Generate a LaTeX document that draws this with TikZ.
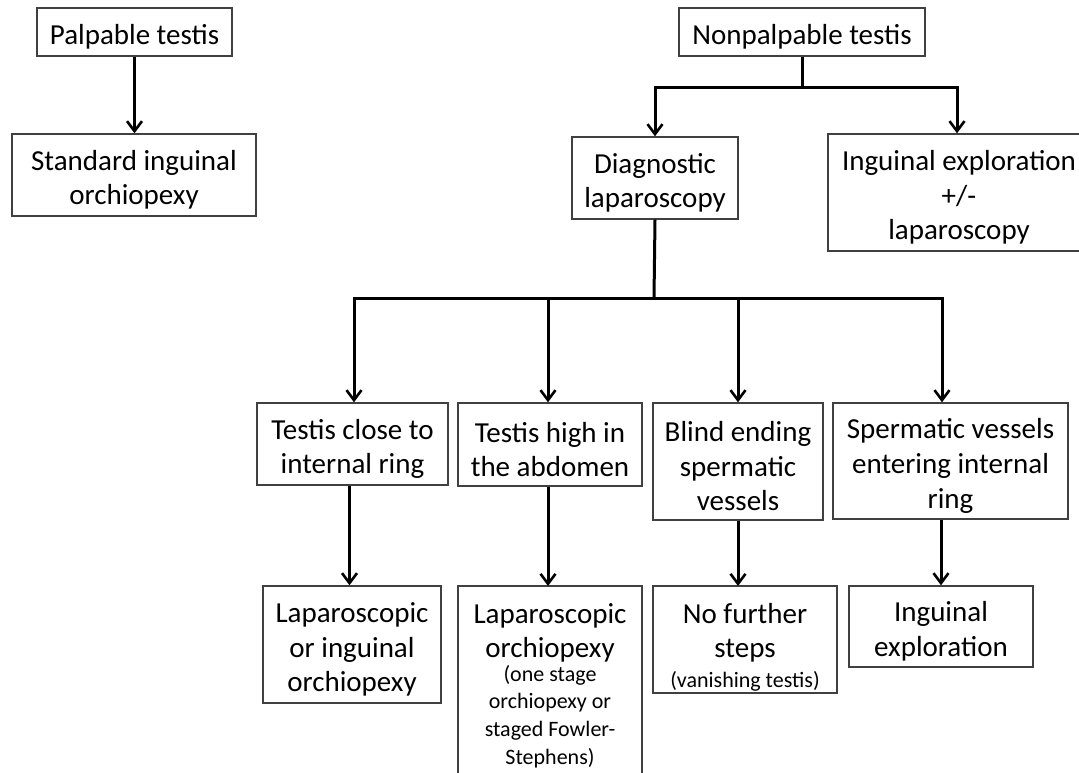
\documentclass[tikz,border=0pt]{standalone}
\usepackage{fontspec}
\setmainfont{Carlito}
\usetikzlibrary{arrows.meta}
\newcommand\mainsz{\fontsize{29pt}{34.6pt}\selectfont}
\newcommand\smallsz{\fontsize{22pt}{27pt}\selectfont}
\newcommand\tp{\rule{0pt}{30pt}}
\begin{document}
\begin{tikzpicture}[x=1pt,y=-1pt,
  box/.style={draw=black!75, line width=1.4pt, align=center, inner sep=0pt, font=\mainsz},
  boxline/.style={draw=black!75, line width=1.4pt},
  txt/.style={align=center, inner xsep=0pt, font=\mainsz},
  conn/.style={line width=3pt, black},
  arr/.style={conn, -{Straight Barb[length=10pt,width=15pt,line width=2.6pt]}}]
\useasboundingbox (0,0) rectangle (1079,773);
\fill[white] (0,0) rectangle (1079,773);

\node[box, minimum width=195pt, minimum height=48pt] (A) at (134.5,32) {\tp Palpable testis};
\node[box, minimum width=244pt, minimum height=82pt] (B) at (134,175) {\tp Standard inguinal\\orchiopexy};
\node[box, minimum width=246pt, minimum height=48pt] (C) at (802,32) {\tp Nonpalpable testis};
\node[box, minimum width=166pt, minimum height=82pt] (D) at (655,178) {\tp Diagnostic\\laparoscopy};
\node[box, minimum width=262pt, minimum height=117pt] (E) at (959,192.5) {\tp Inguinal exploration\\+/-\\laparoscopy};

\node[box, minimum width=191pt, minimum height=82pt] (F) at (352.5,444) {\tp Testis close to\\internal ring};
\node[box, minimum width=184pt, minimum height=83pt] (G) at (550,444.5) {\tp Testis high in\\the abdomen};
\node[box, minimum width=170pt, minimum height=117pt] (H) at (738,461.5) {\tp Blind ending\\spermatic\\vessels};
\node[box, minimum width=235pt, minimum height=116pt] (I) at (950.5,461) {\tp Spermatic vessels\\entering internal\\ring};

\node[box, minimum width=178pt, minimum height=117pt] (J) at (352,644.5) {\tp Laparoscopic\\or inguinal\\orchiopexy};
\node[txt, anchor=north, minimum width=184pt, inner ysep=17pt] (K) at (550,586)
  {Laparoscopic\\orchiopexy\\[-11pt]{\smallsz (one stage}\\[-7pt]{\smallsz orchiopexy or}\\[-7pt]{\smallsz staged Fowler-}\\[-7pt]{\smallsz Stephens)}};
\draw[boxline] (K.north west) rectangle ++(184,220);
\node[txt, anchor=north, minimum width=184pt, inner ysep=17pt] (L) at (745,586)
  {No further\\steps\\[-5pt]{\smallsz (vanishing testis)}};
\draw[boxline] (L.north west) rectangle ++(184,107);
\node[box, minimum width=184pt, minimum height=81pt] (M) at (941,626.5) {\tp Inguinal\\exploration};

\draw[arr] (A.south) -- (A.south |- B.north);

\coordinate (cb) at (802,88);
\draw[conn] (C.south) -- (cb);
\draw[arr] (cb) -| (D.north);
\draw[arr] (cb) -| ([xshift=-2pt]E.north);

\coordinate (db) at (654,298);
\draw[conn] (D.south) -- (db);
\draw[arr] (db) -| ([xshift=1.5pt]F.north);
\draw[arr] (db) -| ([xshift=-2pt]G.north);
\draw[arr] (db) -| (H.north);
\draw[arr] (db) -| ([xshift=-8.5pt]I.north);

\draw[arr] ([xshift=-3pt]F.south) -- ([xshift=-3pt]F.south |- J.north);
\draw[arr] ([xshift=-2pt]G.south) -- ([xshift=-2pt]G.south |- K.north);
\draw[arr] (H.south) -- (H.south |- L.north);
\draw[arr] (I.south -| M.north) -- (M.north);
\end{tikzpicture}
\end{document}
